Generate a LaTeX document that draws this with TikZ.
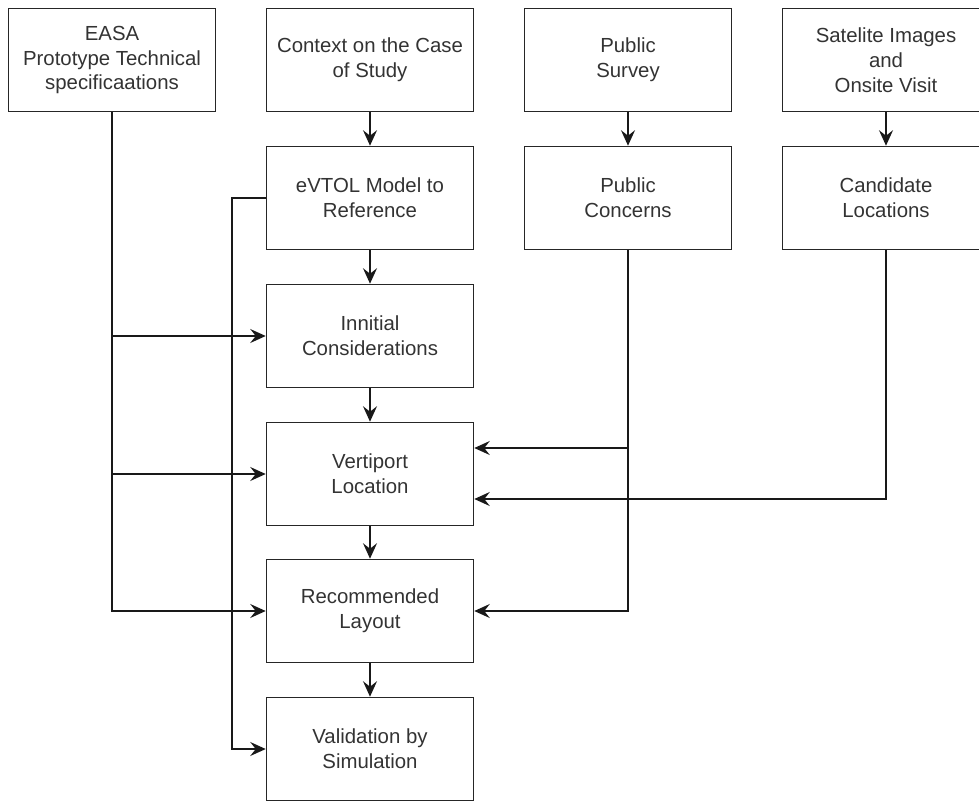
\documentclass[tikz,border=0pt]{standalone}
\usepackage{fontspec}
\setmainfont{Liberation Sans}
\usetikzlibrary{arrows.meta}
\begin{document}
\begin{tikzpicture}[x=0.02cm, y=-0.02cm,
    caja/.style={draw=black!85, line width=0.9pt, minimum width=4.14cm, minimum height=2.06cm,
        align=center, text=black!80, font=\fontsize{11.6}{14.2}\selectfont},
    flecha/.style={draw=black!90, line width=0.9pt, -{Stealth[length=3.1mm, width=2.8mm, inset=1.1mm]}}]
    \useasboundingbox (0,0) rectangle (979,801);
    \clip (0,0) rectangle (979,801);
    % Fila superior: fuentes de informacion
    \node[caja] (easa) at (112, 60) {EASA\\Prototype Technical\\specificaations};
    \node[caja] (contexto) at (370, 60) {Context on the Case\\of Study};
    \node[caja] (encuesta) at (628, 60) {Public\\Survey};
    \node[caja] (satelite) at (886, 60) {Satelite Images\\and\\Onsite Visit};

    % Segunda fila
    \node[caja] (evtol) at (370, 198) {eVTOL Model to\\Reference};
    \node[caja] (preocupaciones) at (628, 198) {Public\\Concerns};
    \node[caja] (candidatas) at (886, 198) {Candidate\\Locations};

    % Columna central
    \node[caja] (inicial) at (370, 336) {Innitial\\Considerations};
    \node[caja] (ubicacion) at (370, 474) {Vertiport\\Location};
    \node[caja] (layout) at (370, 611) {Recommended\\Layout};
    \node[caja] (validacion) at (370, 749) {Validation by\\Simulation};

    \draw[flecha] (contexto) -- (evtol);
    \draw[flecha] (encuesta) -- (preocupaciones);
    \draw[flecha] (satelite) -- (candidatas);
    \draw[flecha] (evtol) -- (inicial);
    \draw[flecha] (inicial) -- (ubicacion);
    \draw[flecha] (ubicacion) -- (layout);
    \draw[flecha] (layout) -- (validacion);

    % Especificaciones EASA hacia la columna central
    \draw[flecha] (easa.south) |- (layout.west);
    \draw[flecha] (easa.south |- inicial.west) -- (inicial.west);
    \draw[flecha] (easa.south |- ubicacion.west) -- (ubicacion.west);

    % Modelo eVTOL hacia la validacion
    \draw[flecha] (evtol.west) -- ++(-34, 0) |- (validacion.west);

    % Preocupaciones y ubicaciones candidatas
    \draw[flecha] (preocupaciones.south) |- ([yshift=0.52cm]ubicacion.east);
    \draw[flecha] (preocupaciones.south) |- (layout.east);
    \draw[flecha] (candidatas.south) |- ([yshift=-0.5cm]ubicacion.east);
\end{tikzpicture}
\end{document}
